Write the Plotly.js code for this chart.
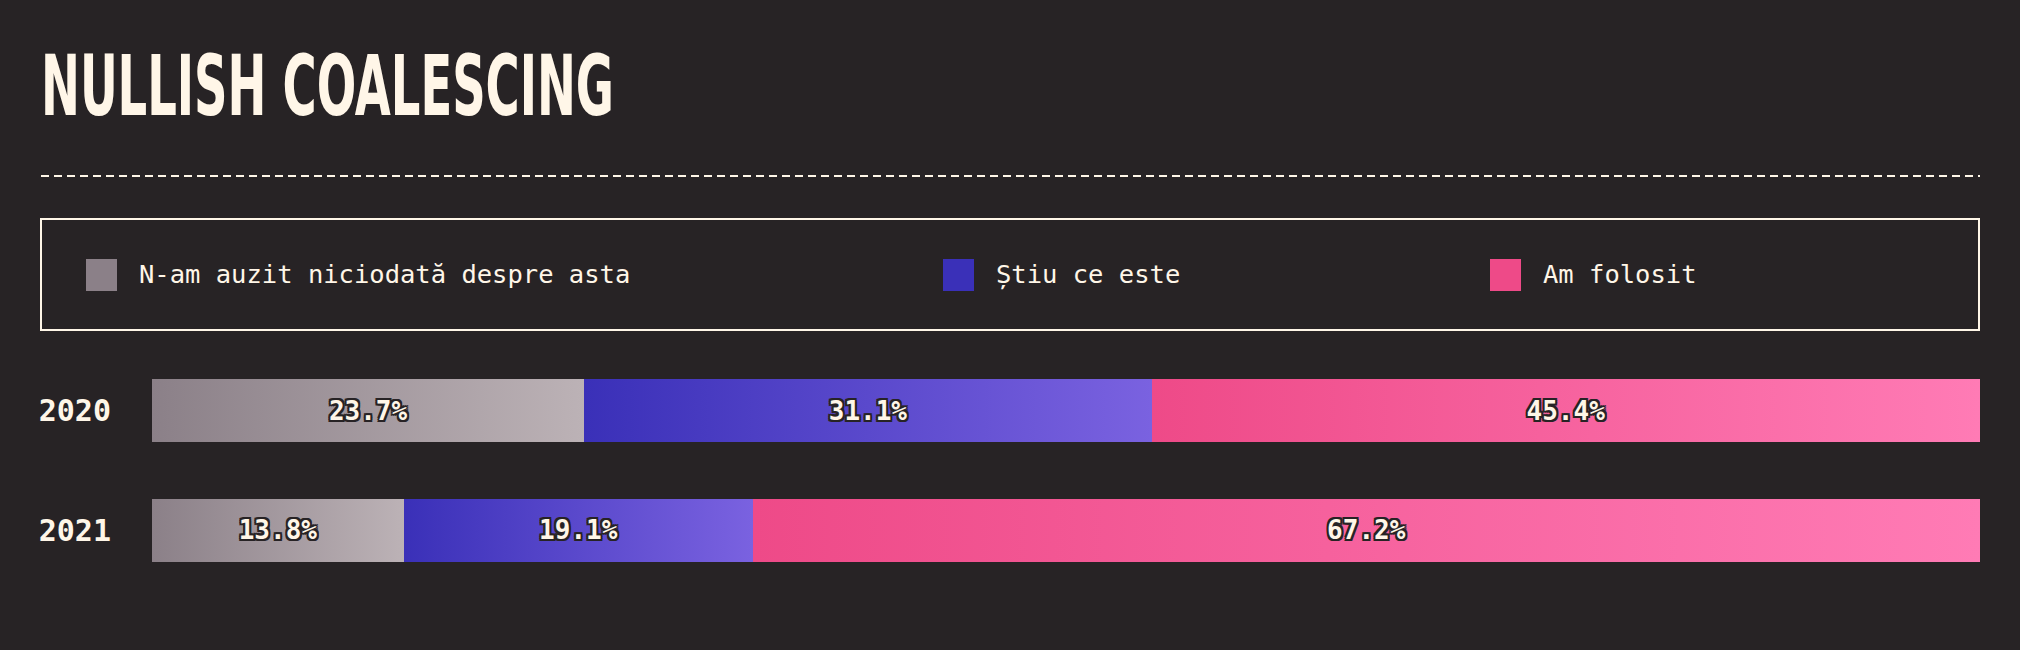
<!DOCTYPE html>
<html>
<head>
<meta charset="utf-8">
<script src="https://cdn.plot.ly/plotly-3.0.1.min.js"></script>
<style>
  html, body { margin: 0; padding: 0; background: #272325; }
  #chartBox { width: 2020px; height: 650px; }
</style>
</head>
<body>
<div id="chartBox"></div>
<script>
// date din grafic
const years = ['2020', '2021'];
const seriesNames = ['N-am auzit niciodată despre asta', 'Știu ce este', 'Am folosit'];
const neverHeard = [23.7, 13.8];
const knowIt = [31.1, 19.1];
const usedIt = [45.4, 67.2];

// culori: [inceput gradient, sfarsit gradient]
const colorsFrom = ['#8b8088', '#3a30b8', '#ee4a88'];
const colorsTo = ['#bcb2b6', '#7a62e0', '#ff7bb5'];

const W = 2020, H = 650;
const BG = '#272325';
const CREAM = '#fff6e8';
const px = x => x / W;
const py = y => 1 - y / H;

const outline = [
  '-2px -2px 0 ' + BG, '2px -2px 0 ' + BG, '-2px 2px 0 ' + BG, '2px 2px 0 ' + BG,
  '0 -2px 0 ' + BG, '0 2px 0 ' + BG, '-2px 0 0 ' + BG, '2px 0 0 ' + BG
].join(', ');

const values = [neverHeard, knowIt, usedIt];
const data = values.map((vals, i) => ({
  type: 'bar',
  orientation: 'h',
  name: seriesNames[i],
  y: years,
  x: vals,
  text: vals.map(v => v.toFixed(1) + '%'),
  texttemplate: '%{text}',
  textposition: 'inside',
  insidetextanchor: 'middle',
  textangle: 0,
  constraintext: 'none',
  textfont: { family: 'DejaVu Sans Mono', size: 26, color: CREAM, weight: 'bold', shadow: outline },
  marker: { color: colorsFrom[i], line: { width: 0 } },
  hoverinfo: 'none',
  showlegend: false
}));

// legenda desenata cu forme si adnotari
const legendX = [86, 943, 1490];
const shapes = [
  { type: 'line', xref: 'paper', yref: 'paper', x0: px(41), x1: px(1980), y0: py(176), y1: py(176),
    line: { color: CREAM, width: 2, dash: '8px,5px' } },
  { type: 'rect', xref: 'paper', yref: 'paper', x0: px(41), x1: px(1979), y0: py(219), y1: py(330),
    line: { color: CREAM, width: 2 }, fillcolor: 'rgba(0,0,0,0)' }
];
const annotations = [];
seriesNames.forEach((name, i) => {
  shapes.push({ type: 'rect', xref: 'paper', yref: 'paper',
    x0: px(legendX[i]), x1: px(legendX[i] + 31), y0: py(259), y1: py(291),
    line: { width: 0 }, fillcolor: colorsFrom[i] });
  annotations.push({ xref: 'paper', yref: 'paper', x: px(legendX[i] + 51), y: py(274),
    xanchor: 'left', yanchor: 'middle', showarrow: false, text: name,
    font: { family: 'DejaVu Sans Mono', size: 25.5, color: CREAM } });
});

const layout = {
  width: W,
  height: H,
  paper_bgcolor: BG,
  plot_bgcolor: BG,
  margin: { l: 0, r: 0, t: 0, b: 0 },
  barmode: 'stack',
  barnorm: 'percent',
  bargap: 0.47,
  title: {
    text: 'NULLISH COALESCING',
    x: px(41), xanchor: 'left', xref: 'paper',
    y: py(86), yanchor: 'middle', yref: 'container',
    font: { family: 'Liberation Sans Narrow, DejaVu Sans Condensed, sans-serif', size: 84, color: CREAM, weight: 'bold' }
  },
  xaxis: {
    domain: [px(152), px(1980)],
    range: [0, 100],
    showgrid: false, zeroline: false, showticklabels: false, showline: false
  },
  yaxis: {
    type: 'category',
    domain: [py(590), py(351)],
    autorange: 'reversed',
    showgrid: false, zeroline: false, showline: false,
    ticks: '', ticklabelstandoff: 40,
    tickfont: { family: 'DejaVu Sans Mono', size: 30, color: CREAM, weight: 'bold' }
  },
  shapes: shapes,
  annotations: annotations
};

Plotly.newPlot('chartBox', data, layout, { staticPlot: true }).then(gd => {
  // gradient pe fiecare bara
  const svgNS = 'http://www.w3.org/2000/svg';
  const svg = gd.querySelector('.main-svg');
  let defs = svg.querySelector('defs');
  if (!defs) { defs = document.createElementNS(svgNS, 'defs'); svg.prepend(defs); }
  colorsFrom.forEach((c, i) => {
    const g = document.createElementNS(svgNS, 'linearGradient');
    g.setAttribute('id', 'grad' + i);
    g.setAttribute('x1', '0'); g.setAttribute('x2', '1');
    g.setAttribute('y1', '0'); g.setAttribute('y2', '0');
    [[0, c], [1, colorsTo[i]]].forEach(([o, col]) => {
      const s = document.createElementNS(svgNS, 'stop');
      s.setAttribute('offset', o);
      s.setAttribute('stop-color', col);
      g.appendChild(s);
    });
    defs.appendChild(g);
  });
  gd.querySelectorAll('.barlayer .trace').forEach((tr, i) => {
    tr.querySelectorAll('.point path').forEach(p => {
      p.style.fill = 'url(#grad' + i + ')';
    });
  });
  // titlul e condensat
  const t = gd.querySelector('.gtitle');
  if (t) {
    t.setAttribute('textLength', 573);
    t.setAttribute('lengthAdjust', 'spacingAndGlyphs');
  }
});
</script>
</body>
</html>
